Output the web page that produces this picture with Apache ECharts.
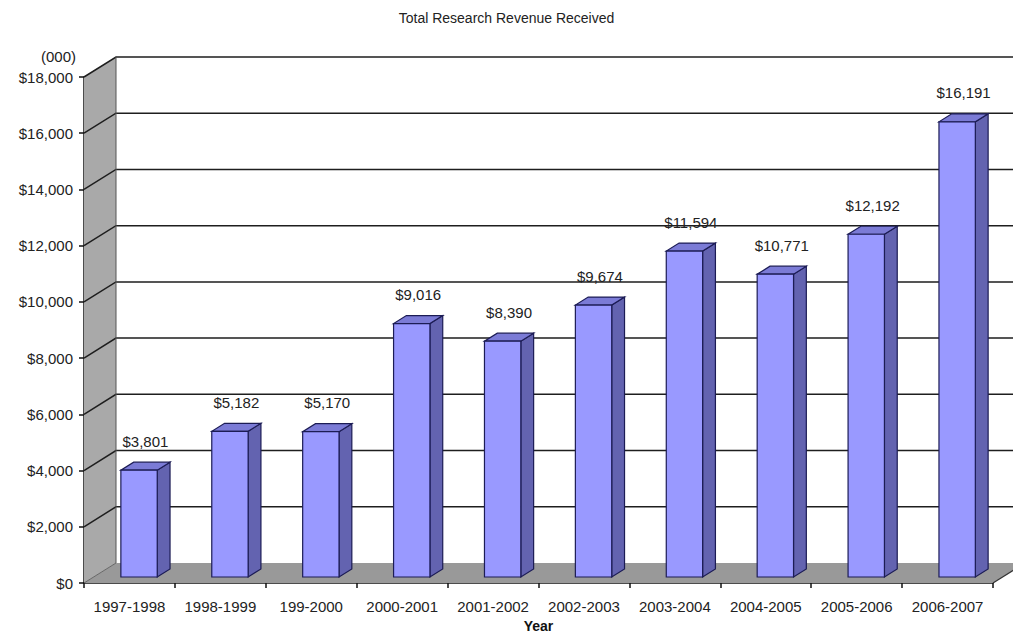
<!DOCTYPE html>
<html>
<head>
<meta charset="utf-8">
<script src="https://cdn.jsdelivr.net/npm/echarts@6/dist/echarts.min.js"></script>
<style>html,body{margin:0;padding:0;background:#fff;}#c{width:1013px;height:635px;}</style>
</head>
<body>
<div id="c"></div>
<script>
const categories = ['1997-1998','1998-1999','199-2000','2000-2001','2001-2002','2002-2003','2003-2004','2004-2005','2005-2006','2006-2007'];
const revenue = [3801, 5182, 5170, 9016, 8390, 9674, 11594, 10771, 12192, 16191];
const yTicks = [0, 2000, 4000, 6000, 8000, 10000, 12000, 14000, 16000, 18000];

const FONT = '"Liberation Sans", Arial, sans-serif';
const DX = 32, DY = -20;          // depth of the 3D box
const BAR_F = 0.3, BAR_D = 0.4;   // bar front position and depth as fractions of box depth
const fmt = v => '$' + v.toLocaleString('en-US');

const chart = echarts.init(document.getElementById('c'), null, {renderer: 'svg'});

function renderBox(params, api) {
  const n = categories.length;
  const bw = api.size([1, 0])[0];
  const L = api.coord([0, 0])[0] - bw / 2;
  const R = api.coord([n - 1, 0])[0] + bw / 2;
  const y0 = api.coord([0, 0])[1];
  const yMax = api.coord([0, yTicks[yTicks.length - 1]])[1];
  const children = [];
  children.push({type: 'polygon', shape: {points: [[L, y0], [L, yMax], [L + DX, yMax + DY], [L + DX, y0 + DY]]},
    style: {fill: '#a9a9a9', stroke: null}});
  children.push({type: 'polygon', shape: {points: [[L, y0], [R, y0], [R + DX, y0 + DY], [L + DX, y0 + DY]]},
    style: {fill: '#999999', stroke: null}});
  yTicks.forEach(v => {
    const y = api.coord([0, v])[1];
    if (v === 0) {
      children.push({type: 'line', shape: {x1: L, y1: y, x2: L + DX, y2: y + DY}, style: {stroke: '#666', lineWidth: 1}});
    } else {
      children.push({type: 'polyline', shape: {points: [[L, y], [L + DX, y + DY], [R + DX + 20, y + DY]]},
        style: {stroke: '#1e1e1e', lineWidth: 1.5, fill: null}});
    }
  });
  children.push({type: 'line', shape: {x1: L + DX, y1: yMax + DY, x2: L + DX, y2: y0 + DY}, style: {stroke: '#555', lineWidth: 1}});
  children.push({type: 'line', shape: {x1: R, y1: y0, x2: R + DX, y2: y0 + DY}, style: {stroke: '#333', lineWidth: 1.2}});
  return {type: 'group', children};
}

function renderBar(params, api) {
  const i = api.value(0), v = api.value(1);
  const bw = api.size([1, 0])[0];
  const w = bw * 0.4;
  const c = api.coord([i, v]);
  const b = api.coord([i, 0]);
  const fx = BAR_F * DX, fy = BAR_F * DY;
  const dx = BAR_D * DX, dy = BAR_D * DY;
  const x1 = c[0] - w / 2 + fx, x2 = c[0] + w / 2 + fx;
  const yt = c[1] + fy, yb = b[1] + fy;
  const stroke = '#1c1c55';
  return {type: 'group', children: [
    {type: 'polygon', shape: {points: [[x2, yt], [x2, yb], [x2 + dx, yb + dy], [x2 + dx, yt + dy]]},
      style: {fill: '#6363b0', stroke, lineWidth: 1.2}},
    {type: 'polygon', shape: {points: [[x1, yt], [x2, yt], [x2 + dx, yt + dy], [x1 + dx, yt + dy]]},
      style: {fill: '#7b7bd6', stroke, lineWidth: 1.2}},
    {type: 'rect', shape: {x: x1, y: yt, width: x2 - x1, height: yb - yt},
      style: {fill: '#9999ff', stroke, lineWidth: 1.2}},
    {type: 'text', x: (x1 + x2) / 2 + dx / 2, y: yt + dy - 21,
      style: {text: fmt(v), fill: '#222', font: '15px ' + FONT, align: 'center', verticalAlign: 'middle'}}
  ]};
}

chart.setOption({
  animation: false,
  backgroundColor: '#ffffff',
  title: {text: 'Total Research Revenue Received', left: 'center', top: 6,
    textStyle: {fontFamily: FONT, fontSize: 14, fontWeight: 'normal', color: '#222'}},
  grid: {left: 84, right: 20, top: 77, bottom: 52, containLabel: false, outerBoundsMode: 'none'},
  xAxis: {
    type: 'category', data: categories, boundaryGap: true,
    name: 'Year', nameLocation: 'middle', nameGap: 33,
    nameTextStyle: {fontFamily: FONT, fontSize: 14, fontWeight: 'bold', color: '#111'},
    axisLine: {show: true, lineStyle: {color: '#111', width: 1.5}},
    axisTick: {show: true, length: 5, lineStyle: {color: '#111', width: 1.5}},
    axisLabel: {fontFamily: FONT, fontSize: 15, color: '#222', margin: 16, interval: 0},
    splitLine: {show: false}
  },
  yAxis: {
    type: 'value', min: 0, max: 18000, interval: 2000,
    name: '(000)', nameLocation: 'end', nameGap: 13,
    nameTextStyle: {fontFamily: FONT, fontSize: 15, color: '#222', align: 'right', padding: [0, 8, 0, 0]},
    axisLine: {show: true, lineStyle: {color: '#111', width: 1.5}},
    axisTick: {show: true, length: 5, lineStyle: {color: '#111', width: 1.5}},
    axisLabel: {fontFamily: FONT, fontSize: 15, color: '#222', margin: 11, formatter: fmt},
    splitLine: {show: false}
  },
  series: [
    {type: 'custom', renderItem: renderBox, data: [[0, 0]], clip: false, silent: true, z: 1},
    {type: 'custom', renderItem: renderBar, data: revenue.map((v, i) => [i, v]), clip: false, z: 2,
      encode: {x: 0, y: 1}}
  ]
});
</script>
</body>
</html>
